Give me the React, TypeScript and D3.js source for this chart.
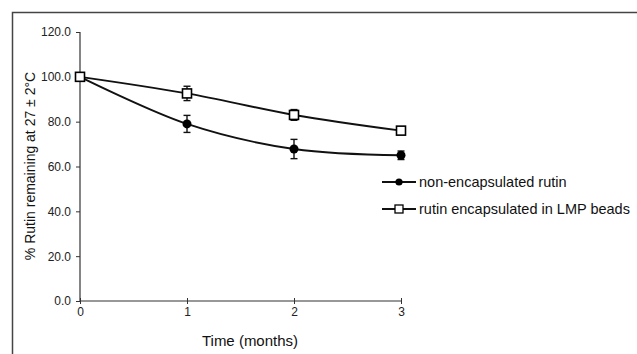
import React, { useRef, useEffect } from "react";
import * as d3 from "d3";

// Time points (months)
const months = [0, 1, 2, 3];

// % rutin remaining
const nonEncapsulated = [100, 79.0, 67.8, 65.0];
const nonEncapsulatedErr = [0, 3.8, 4.3, 1.9];
const encapsulated = [100, 92.6, 83.0, 76.0];
const encapsulatedErr = [0, 3.2, 2.4, 1.0];

const yTicks = [0, 20, 40, 60, 80, 100, 120];
const seriesNames = ["non-encapsulated rutin", "rutin encapsulated in LMP beads"];

export default function App() {
  const svgRef = useRef<SVGSVGElement>(null);

  useEffect(() => {
    if (!svgRef.current) return;
    const svg = d3.select(svgRef.current);
    svg.selectAll("*").remove();

    const width = 637;
    const height = 354;
    const font = "Liberation Sans, Arial, sans-serif";

    // outer frame (right and bottom edges fall outside the picture)
    svg.append("path")
      .attr("d", `M12.5,${height + 5} V12.5 H${width + 5}`)
      .attr("fill", "none")
      .attr("stroke", "#444")
      .attr("stroke-width", 1.5);

    const x = d3.scaleLinear().domain([0, 3]).range([80, 401]);
    const y = d3.scaleLinear().domain([0, 120]).range([301, 32]);

    // y axis
    const yAxis = svg.append("g")
      .attr("transform", `translate(${x(0)},0)`)
      .call(d3.axisLeft(y).tickValues(yTicks).tickSize(4).tickFormat(d => d3.format(".1f")(Number(d))));
    yAxis.select(".domain").attr("stroke", "#333").attr("stroke-width", 1.2).attr("d", `M0,${y(120)}V${y(0)}`);
    yAxis.selectAll("line").attr("stroke", "#333");
    yAxis.selectAll("text")
      .attr("x", -9)
      .style("font-family", font)
      .style("font-size", "12px")
      .style("fill", "#222");

    // x axis
    const xAxis = svg.append("g")
      .attr("transform", `translate(0,${y(0)})`)
      .call(d3.axisBottom(x).tickValues(months).tickSize(0).tickFormat(d => `${d}`));
    xAxis.select(".domain").attr("stroke", "#333").attr("stroke-width", 1.2).attr("d", `M${x(0)},0H${x(3)}`);
    xAxis.selectAll(".tick line").attr("y1", -3).attr("y2", 3).attr("stroke", "#333");
    xAxis.selectAll("text")
      .attr("y", 6)
      .style("font-family", font)
      .style("font-size", "12px")
      .style("fill", "#222");

    // axis titles
    svg.append("text")
      .attr("x", 250)
      .attr("y", 346)
      .attr("text-anchor", "middle")
      .style("font-family", font)
      .style("font-size", "15px")
      .style("fill", "#111")
      .text("Time (months)");

    svg.append("text")
      .attr("transform", `translate(35,${166}) rotate(-90)`)
      .attr("text-anchor", "middle")
      .style("font-family", font)
      .style("font-size", "14px")
      .style("fill", "#111")
      .text("% Rutin remaining at 27 ± 2°C");

    const line = d3.line<number>()
      .x((_, i) => x(months[i]))
      .y(d => y(d))
      .curve(d3.curveCatmullRom.alpha(0.5));

    const drawErr = (vals: number[], errs: number[]) => {
      vals.forEach((v, i) => {
        if (!errs[i]) return;
        const cx = x(months[i]);
        const g = svg.append("g").attr("stroke", "#111").attr("stroke-width", 1.4);
        g.append("line").attr("x1", cx).attr("x2", cx).attr("y1", y(v + errs[i])).attr("y2", y(v - errs[i]));
        g.append("line").attr("x1", cx - 3.5).attr("x2", cx + 3.5).attr("y1", y(v + errs[i])).attr("y2", y(v + errs[i]));
        g.append("line").attr("x1", cx - 3.5).attr("x2", cx + 3.5).attr("y1", y(v - errs[i])).attr("y2", y(v - errs[i]));
      });
    };

    // non-encapsulated
    svg.append("path").datum(nonEncapsulated)
      .attr("fill", "none").attr("stroke", "#111").attr("stroke-width", 1.9).attr("d", line);
    drawErr(nonEncapsulated, nonEncapsulatedErr);
    svg.selectAll(".dot").data(nonEncapsulated).enter().append("circle")
      .attr("cx", (_, i) => x(months[i])).attr("cy", d => y(d)).attr("r", 4.5).attr("fill", "#000");

    // encapsulated
    svg.append("path").datum(encapsulated)
      .attr("fill", "none").attr("stroke", "#111").attr("stroke-width", 1.9).attr("d", line);
    drawErr(encapsulated, encapsulatedErr);
    svg.selectAll(".sq").data(encapsulated).enter().append("rect")
      .attr("x", (_, i) => x(months[i]) - 4.5).attr("y", d => y(d) - 4.5)
      .attr("width", 9).attr("height", 9)
      .attr("fill", "#fff").attr("stroke", "#000").attr("stroke-width", 1.6);

    // legend
    const legend = svg.append("g").attr("transform", "translate(382,182)");
    seriesNames.forEach((name, i) => {
      const row = legend.append("g").attr("transform", `translate(0,${i * 27})`);
      row.append("line").attr("x1", 0).attr("x2", 34).attr("y1", 0).attr("y2", 0)
        .attr("stroke", "#111").attr("stroke-width", 1.8);
      if (i === 0) {
        row.append("circle").attr("cx", 17).attr("cy", 0).attr("r", 3.6).attr("fill", "#000");
      } else {
        row.append("rect").attr("x", 13).attr("y", -4).attr("width", 8).attr("height", 8)
          .attr("fill", "#fff").attr("stroke", "#000").attr("stroke-width", 1.3);
      }
      row.append("text").attr("x", 37).attr("y", 5)
        .style("font-family", font)
        .style("font-size", "14.5px")
        .style("fill", "#111")
        .text(name);
    });
  }, []);

  return (
    <svg ref={svgRef} width={637} height={354}
      style={{ position: "absolute", left: 0, top: 0, background: "#fff" }} />
  );
}
